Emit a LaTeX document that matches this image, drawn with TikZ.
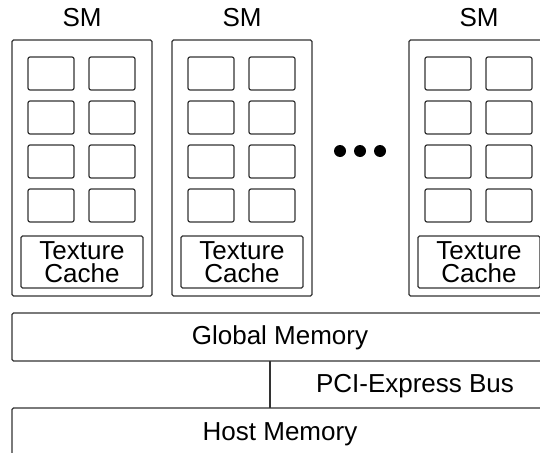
\documentclass[tikz,border=0pt]{standalone}
\usepackage{fontspec}
\setmainfont{Liberation Sans}
\begin{document}
\begin{tikzpicture}[x=1pt,y=-1pt,
  every node/.style={inner sep=0pt,outer sep=0pt},
  lbl/.style={font=\fontsize{26}{23}\selectfont},
  smbox/.style={draw=black!80,line width=1.2pt,rounded corners=1.5pt,minimum width=140pt,minimum height=256pt,anchor=north west},
  cellbox/.style={draw=black!80,line width=1.2pt,rounded corners=2pt,minimum width=46pt,minimum height=33pt,anchor=north west},
  tcbox/.style={draw=black!80,line width=1.2pt,rounded corners=1.5pt,minimum width=122pt,minimum height=52pt,anchor=north west,align=center,font=\fontsize{26}{23}\selectfont},
  membox/.style={draw=black!80,line width=1.2pt,rounded corners=1.5pt,minimum width=536pt,anchor=north west},
  dot/.style={circle,fill=black,minimum size=12pt}
]
\useasboundingbox (0,0) rectangle (540,452);
\clip (0,0) rectangle (540,452);
\foreach \i/\x in {1/12,2/172,3/409}{
  \node[smbox] (sm\i) at (\x,40) {};
  \node[lbl,anchor=base] (smlabel\i) at (\x+70,27) {SM};
  \foreach \r/\y in {1/57,2/101,3/145,4/189}{
    \node[cellbox] (cell\i-\r-1) at (\x+16,\y) {};
    \node[cellbox] (cell\i-\r-2) at (\x+77,\y) {};
  }
  \node[tcbox] (tc\i) at (\x+9,236) {Texture\\Cache};
}
\node[dot] (dot1) at (340,151) {};
\node[dot] (dot2) at (360,151) {};
\node[dot] (dot3) at (380,151) {};
\node[membox,minimum height=48pt] (gmem) at (12,313) {};
\node[lbl,anchor=base] (gmemlabel) at (280,344) {Global Memory};
\node[membox,minimum height=60pt] (hmem) at (12,408) {};
\node[lbl,anchor=base] (hmemlabel) at (280,440) {Host Memory};
\node[lbl,anchor=base] (pcie) at (415,392) {PCI-Express Bus};
\draw[draw=black!80,line width=1.2pt] (gmem.south west -| 270,0) -- (hmem.north west -| 270,0);
\end{tikzpicture}
\end{document}
